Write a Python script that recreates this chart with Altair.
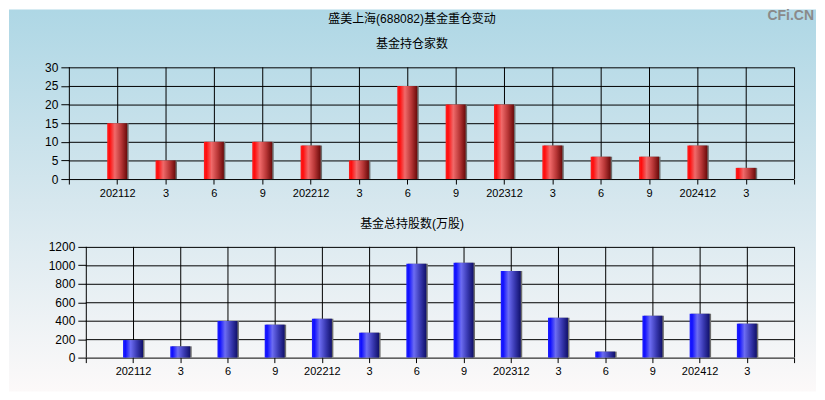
import altair as alt
import pandas as pd

# ---------------- data ----------------
labels = ["202112", "3", "6", "9", "202212", "3", "6", "9",
          "202312", "3", "6", "9", "202412", "3"]
holders = [15, 5, 10, 10, 9, 5, 25, 20, 20, 9, 6, 6, 9, 3]
shares = [190, 122, 397, 357, 422, 270, 1016, 1027, 940, 432, 65, 454, 476, 368]
holder_ticks = [0, 5, 10, 15, 20, 25, 30]
share_ticks = [0, 200, 400, 600, 800, 1000, 1200]

main_title = "盛美上海(688082)基金重仓变动"
top_title = "基金持仓家数"
bottom_title = "基金总持股数(万股)"
watermark = "CFi.CN"

N = len(labels)
positions = list(range(1, N + 1))
edges = list(range(0, N + 2))

# ---------------- layout / style ----------------
FONT = "Liberation Sans, Noto Sans CJK SC, sans-serif"
W = 727          # plot width (both panels)
LEFT = 60        # plot left edge measured from svg left
TOTAL_W = 809
CENTER = 344     # horizontal centre of the page, relative to plot left
label_expr = "[" + ",".join(repr(s) for s in [""] + labels + [""]) + "][round(datum.value)]"


def grad(stops, horizontal):
    return alt.LinearGradient(
        gradient="linear", x1=0, y1=0,
        x2=1 if horizontal else 0, y2=0 if horizontal else 1,
        stops=[alt.GradientStop(color=c, offset=o) for o, c in stops])


red = grad([(0, "#ff2020"), (0.12, "#ff0c0c"), (0.38, "#f06a6a"),
            (0.7, "#b83636"), (1, "#6a0a0a")], True)
blue = grad([(0, "#2020ff"), (0.12, "#1010ff"), (0.38, "#6c6cf2"),
             (0.7, "#3838b0"), (1, "#10106a")], True)


def text_layer(txt, x, y, size=12, weight="normal", color="black", align="center",
               font=FONT, baseline="middle"):
    return alt.Chart(pd.DataFrame({"s": [txt]})).mark_text(
        align=align, baseline=baseline, fontSize=size, fontWeight=weight,
        color=color, font=font).encode(text="s:N", x=alt.value(x), y=alt.value(y))


def panel(values, ticks, bar_fill, height, inset, bg_top, bg_bottom, bg_stops,
          texts):
    d0 = -inset * (N + 1) / (W - inset)
    xs = alt.Scale(domain=[d0, N + 1], nice=False, zero=False, padding=0)
    ys = alt.Scale(domain=[ticks[0], ticks[-1]], nice=False, padding=0)
    xaxis = alt.Axis(
        values=edges, labelExpr=label_expr, grid=False, domain=False,
        ticks=True, tickSize=5, tickColor="black", labelPadding=3,
        labelFontSize=11, labelFont=FONT, labelColor="black", labelAngle=0,
        labelOverlap=False, labelFlush=False, title=None, zindex=1)
    yaxis = alt.Axis(
        values=ticks, format="d", grid=False, domain=False, tickSize=8,
        tickColor="black", labelPadding=3, labelFontSize=12, labelFont=FONT,
        labelColor="black", title=None, zindex=1, offset=-inset)

    bars = pd.DataFrame({"pos": positions, "value": values})
    hdf = pd.DataFrame({"pos": [0] * len(ticks), "x1": [N + 1] * len(ticks), "value": ticks})
    vdf = pd.DataFrame({"pos": edges, "value": [ticks[0]] * len(edges),
                        "y1": [ticks[-1]] * len(edges)})

    X = alt.X("pos:Q", scale=xs, axis=xaxis)
    Y = alt.Y("value:Q", scale=ys, axis=yaxis)

    bg = alt.Chart(pd.DataFrame({"k": [0]})).mark_rect(fill=grad(bg_stops, False)).encode(
        x=alt.value(-LEFT), x2=alt.value(TOTAL_W - LEFT),
        y=alt.value(bg_top), y2=alt.value(bg_bottom))

    hgrid = alt.Chart(hdf).mark_rule(color="black", strokeWidth=1, yOffset=0.5).encode(
        x=X, x2="x1:Q", y=Y)

    vgrid = alt.Chart(vdf).mark_rule(color="black", strokeWidth=1, xOffset=0.5).encode(
        x=X, y=Y, y2="y1:Q")

    shadow = alt.Chart(bars).mark_bar(size=20, color="#6e6e6e", xOffset=1.5).encode(
        x=X, y=Y)

    main = alt.Chart(bars).mark_bar(size=20, fill=bar_fill).encode(x=X, y=Y)

    layers = [bg, hgrid, vgrid, shadow, main] + texts
    return alt.layer(*layers).properties(width=W, height=height)


top = panel(holders, holder_ticks, red, 112, 0, -58, 146,
            [(0, "#aed7e5"), (0.941, "#d6e7ee"), (1, "#d8e8ef")],
            [text_layer(main_title, CENTER, -48),
             text_layer(top_title, CENTER, -23),
             text_layer(watermark, TOTAL_W - LEFT - 2, -58, size=14, weight="bold",
                        color="#8a8a8a", align="right", font="Liberation Sans",
                        baseline="top")])

bottom = panel(shares, share_ticks, blue, 111, 17, -35, 145,
               [(0, "#d8e8ef"), (1, "#fcf9f9")],
               [text_layer(bottom_title, CENTER, -23)])

chart = alt.vconcat(top, bottom, spacing=-3).properties(padding=0).configure_view(
    stroke=None).configure(background="#ffffff")

chart.save("out.html", embed_options={"renderer": "svg", "actions": False})
